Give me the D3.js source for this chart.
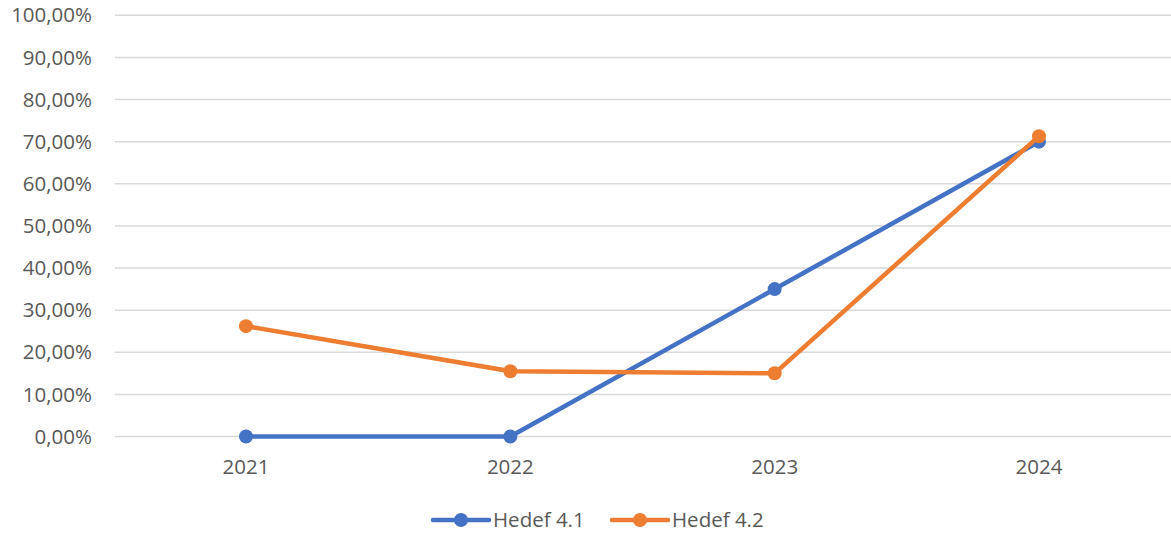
<!DOCTYPE html>
<html>
<head>
<meta charset="utf-8">
<script src="https://cdn.jsdelivr.net/npm/d3@7"></script>
<style>
  body { margin: 0; background: #fff; }
  text { font-family: "Open Sans", sans-serif; fill: #595959; }
</style>
</head>
<body>
<script>
var years = ["2021", "2022", "2023", "2024"];
var hedef41 = [0, 0, 35, 70];
var hedef42 = [26.2, 15.5, 15.0, 71.3];
var seriesNames = ["Hedef 4.1", "Hedef 4.2"];
var colors = ["#4472C4", "#ED7D31"];
var yTicks = [0, 10, 20, 30, 40, 50, 60, 70, 80, 90, 100];

var w = 1171, h = 537;
var margin = { left: 115, right: 0, top: 15.3, bottom: 100.5 };
var fontSize = "20.5px";

var svg = d3.select("body").append("svg").attr("width", w).attr("height", h);

var x = d3.scalePoint().domain(years).range([246, 1039]);
var y = d3.scaleLinear().domain([0, 100]).range([h - margin.bottom, margin.top]);

// gridlines
svg.selectAll("line.grid")
    .data(yTicks)
    .enter()
    .append("line")
    .attr("class", "grid")
    .attr("x1", margin.left)
    .attr("x2", w - margin.right)
    .attr("y1", function(d) { return y(d); })
    .attr("y2", function(d) { return y(d); })
    .style("stroke", "#D9D9D9")
    .style("stroke-width", 1.5);

// y labels
svg.selectAll("text.ylab")
    .data(yTicks)
    .enter()
    .append("text")
    .attr("class", "ylab")
    .attr("x", 92)
    .attr("y", function(d) { return y(d); })
    .attr("dy", "0.35em")
    .attr("text-anchor", "end")
    .style("font-size", fontSize)
    .text(function(d) { return d.toFixed(2).replace(".", ",") + "%"; });

// x labels
svg.selectAll("text.xlab")
    .data(years)
    .enter()
    .append("text")
    .attr("class", "xlab")
    .attr("x", function(d) { return x(d); })
    .attr("y", 467)
    .attr("dy", "0.35em")
    .attr("text-anchor", "middle")
    .style("font-size", fontSize)
    .text(function(d) { return d; });

var series = [hedef41, hedef42];
var line = d3.line()
    .x(function(d, i) { return x(years[i]); })
    .y(function(d) { return y(d); });

series.forEach(function(vals, s) {
    svg.append("path")
        .attr("d", line(vals))
        .style("fill", "none")
        .style("stroke", colors[s])
        .style("stroke-width", 4.5)
        .style("stroke-linejoin", "round");
    svg.selectAll("circle.s" + s)
        .data(vals)
        .enter()
        .append("circle")
        .attr("class", "s" + s)
        .attr("cx", function(d, i) { return x(years[i]); })
        .attr("cy", function(d) { return y(d); })
        .attr("r", 7)
        .style("fill", colors[s]);
});

// legend
var legendX = [433, 612];
seriesNames.forEach(function(name, s) {
    var g = svg.append("g").attr("transform", "translate(" + legendX[s] + ",520)");
    g.append("line").attr("x1", 0).attr("x2", 56).attr("y1", 0).attr("y2", 0)
        .style("stroke", colors[s]).style("stroke-width", 4.5).style("stroke-linecap", "round");
    g.append("circle").attr("cx", 28).attr("cy", 0).attr("r", 7).style("fill", colors[s]);
    g.append("text").attr("x", 60).attr("y", 0).attr("dy", "0.35em")
        .style("font-size", fontSize).text(name);
});
</script>
</body>
</html>
